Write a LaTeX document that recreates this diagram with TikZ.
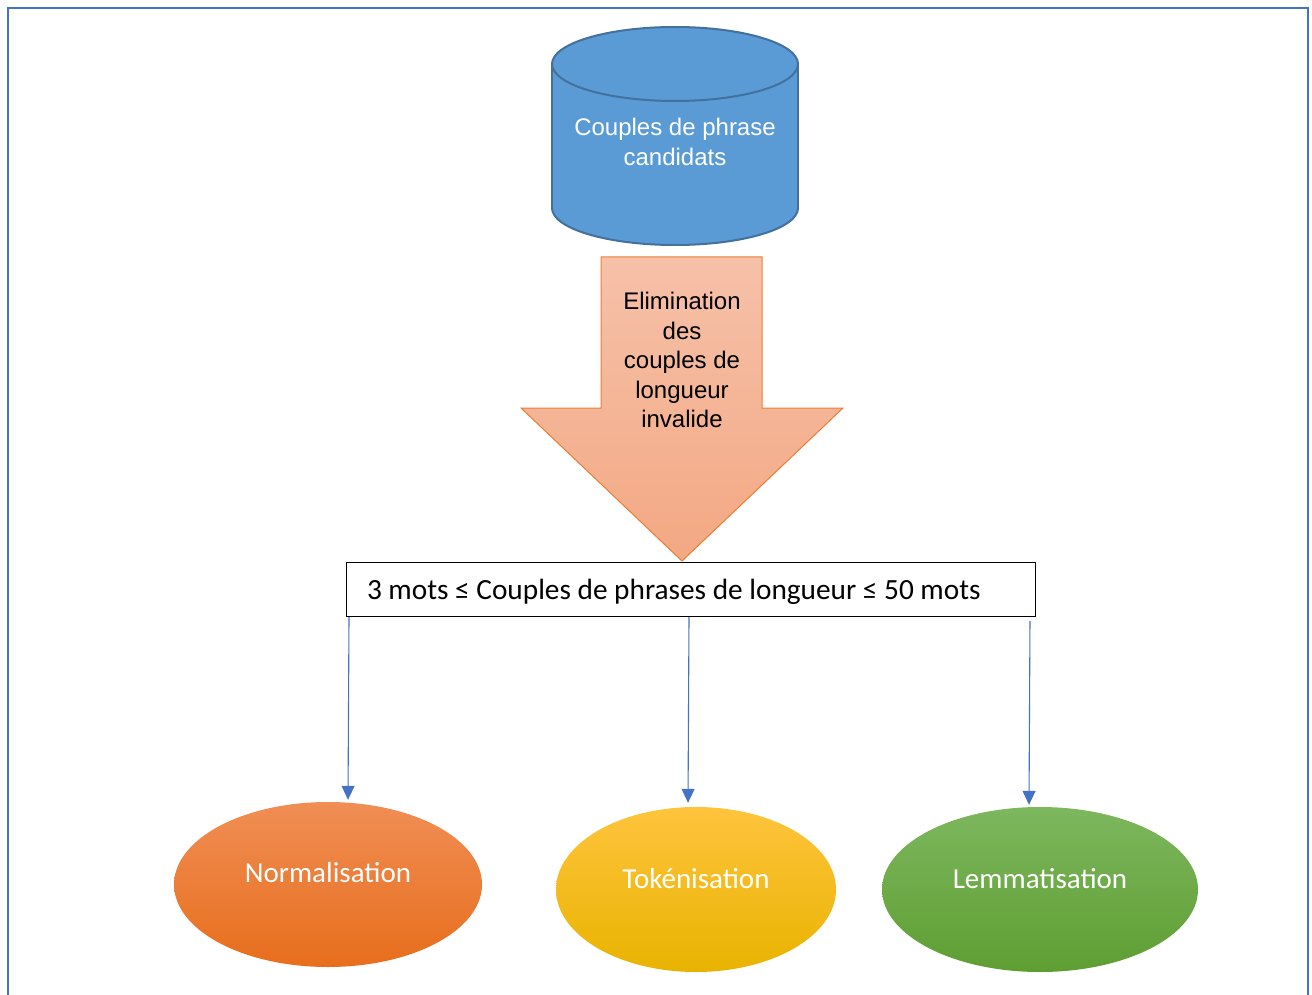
\documentclass[tikz,border=0pt]{standalone}
\usepackage{fontspec}
\setmainfont{Liberation Sans}
\newfontfamily\calibri{Carlito}
\usetikzlibrary{shapes.geometric,arrows.meta,calc}

\definecolor{frameblue}{HTML}{4472C4}
\definecolor{dbfill}{HTML}{5B9BD5}
\definecolor{dbline}{HTML}{41719C}
\definecolor{arrowtop}{HTML}{F6C1A9}
\definecolor{arrowbot}{HTML}{F3A883}
\definecolor{arrowline}{HTML}{ED7D31}
\definecolor{orTop}{HTML}{F08E55}
\definecolor{orMid}{HTML}{F07F2C}
\definecolor{orBot}{HTML}{E76E1C}
\definecolor{yeTop}{HTML}{FFC43D}
\definecolor{yeMid}{HTML}{FFC000}
\definecolor{yeBot}{HTML}{E8B300}
\definecolor{grTop}{HTML}{7DB75E}
\definecolor{grMid}{HTML}{6DAD42}
\definecolor{grBot}{HTML}{5E9E32}

\tikzset{
  conn/.style={draw=frameblue, line width=1.1pt, -{Triangle[width=13pt,length=14pt]}},
  oval/.style={ellipse, inner sep=0pt, minimum height=165pt, text=white,
    font=\calibri\fontsize{29}{34}\selectfont},
  sanstext/.style={align=center, font=\fontsize{24}{29.5}\selectfont}
}
% text set on the baseline, raised by #1, taking no vertical room
\newcommand{\onbase}[2]{\raisebox{#1}[0pt][0pt]{#2}}

\begin{document}
\begin{tikzpicture}[x=1pt, y=-1pt]
  \useasboundingbox (0,0) rectangle (1312,995);

  % outer frame (runs past the bottom of the page)
  \draw[frameblue, line width=2.2pt] (8,1000) -- (8,8) -- (1308,8) -- (1308,1000);

  % database cylinder
  \filldraw[fill=dbfill, draw=dbline, line width=2pt] (675,208) ellipse [x radius=123, y radius=37];
  \fill[dbfill] (552,64) rectangle (798,208);
  \draw[dbline, line width=2pt] (552,64) -- (552,208) (798,64) -- (798,208);
  \filldraw[fill=dbfill, draw=dbline, line width=2pt] (675,64) ellipse [x radius=123, y radius=37];
  \node[sanstext, text=white] (db) at (675,142) {Couples de phrase\\candidats};

  % big downward arrow
  \shade[top color=arrowtop, bottom color=arrowbot]
    (601,257) -- (762,257) -- (762,408) -- (843,408) -- (682,561) -- (521,408) -- (601,408) -- cycle;
  \draw[arrowline, line width=1pt, line join=miter]
    (601,257) -- (762,257) -- (762,408) -- (843,408) -- (682,561) -- (521,408) -- (601,408) -- cycle;
  \node[sanstext, text=black] (elim) at (682,360) {Elimination\\des\\couples de\\longueur\\invalide};

  % length constraint box
  \node[draw=black, line width=1pt, fill=white, anchor=north west, minimum height=54pt,
        minimum width=689pt, inner xsep=20.5pt, inner ysep=0pt,
        font=\calibri\fontsize{29.3}{34}\selectfont] (box) at (346,562)
        {\onbase{-10pt}{\makebox[648pt][l]{3 mots ≤ Couples de phrases de longueur ≤ 50 mots}}};

  % processing steps
  \shade[top color=orTop, middle color=orMid, bottom color=orBot]
    (328,884.5) ellipse [x radius=154, y radius=82.5];
  \node[oval, minimum width=308pt] (norm) at (328,884.5) {\onbase{2pt}{Normalisation}};
  \shade[top color=yeTop, middle color=yeMid, bottom color=yeBot]
    (696,889.5) ellipse [x radius=140, y radius=82.5];
  \node[oval, minimum width=280pt] (tok) at (696,889.5) {\onbase{1.5pt}{Tokénisation}};
  \shade[top color=grTop, middle color=grMid, bottom color=grBot]
    (1040,889.5) ellipse [x radius=158, y radius=82.5];
  \node[oval, minimum width=316pt] (lem) at (1040,889.5) {\onbase{1.5pt}{Lemmatisation}};

  % connectors from the box to each step
  \coordinate (s1) at (349,0);  \coordinate (e1) at (348,0);
  \coordinate (s2) at (689,0);  \coordinate (e2) at (688,0);
  \coordinate (s3) at (1030,0); \coordinate (e3) at (1029,0);
  \draw[conn, shorten >=2pt] (box.south -| s1) -- (norm.north -| e1);
  \draw[conn, shorten >=4pt] (box.south -| s2) -- (tok.north -| e2);
  \draw[conn, shorten >=2pt, shorten <=4pt] (box.south -| s3) -- (lem.north -| e3);
\end{tikzpicture}
\end{document}
